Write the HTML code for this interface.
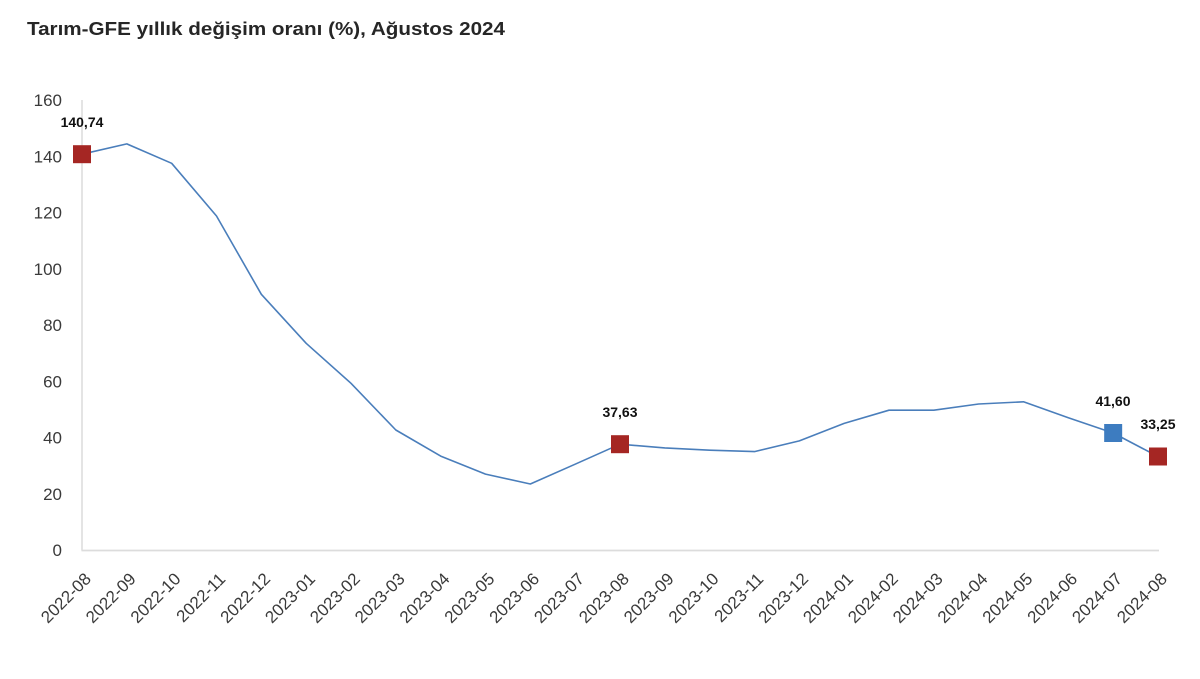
<!DOCTYPE html>
<html>
<head>
<meta charset="utf-8">
<style>
  html,body{margin:0;padding:0;background:#ffffff;}
  svg{display:block;}
  text{font-family:"Liberation Sans", Arial, sans-serif;}
</style>
</head>
<body>
<svg width="1200" height="679" viewBox="0 0 1200 679" xmlns="http://www.w3.org/2000/svg">
  <rect width="1200" height="679" fill="#ffffff"/>
  <!-- Title -->
  <text x="27" y="35" font-size="18" font-weight="bold" fill="#262626" textLength="478" lengthAdjust="spacingAndGlyphs">Tarım-GFE yıllık değişim oranı (%), Ağustos 2024</text>

  <!-- Axes -->
  <line x1="82" y1="100" x2="82" y2="550.5" stroke="#dcdcdc" stroke-width="1.5"/>
  <line x1="81.5" y1="550.5" x2="1159" y2="550.5" stroke="#dcdcdc" stroke-width="1.8"/>

  <!-- Y tick labels -->
  <g font-size="17" fill="#3a3a3a" text-anchor="end">
    <text x="62" y="106">160</text>
    <text x="62" y="162.25">140</text>
    <text x="62" y="218.5">120</text>
    <text x="62" y="274.75">100</text>
    <text x="62" y="331">80</text>
    <text x="62" y="387.25">60</text>
    <text x="62" y="443.5">40</text>
    <text x="62" y="499.75">20</text>
    <text x="62" y="556">0</text>
  </g>

  <!-- X tick labels -->
  <g font-size="17" fill="#3a3a3a" text-anchor="end">
    <text transform="translate(92,580) rotate(-45)">2022-08</text>
    <text transform="translate(136.83,580) rotate(-45)">2022-09</text>
    <text transform="translate(181.67,580) rotate(-45)">2022-10</text>
    <text transform="translate(226.5,580) rotate(-45)">2022-11</text>
    <text transform="translate(271.33,580) rotate(-45)">2022-12</text>
    <text transform="translate(316.17,580) rotate(-45)">2023-01</text>
    <text transform="translate(361,580) rotate(-45)">2023-02</text>
    <text transform="translate(405.83,580) rotate(-45)">2023-03</text>
    <text transform="translate(450.67,580) rotate(-45)">2023-04</text>
    <text transform="translate(495.5,580) rotate(-45)">2023-05</text>
    <text transform="translate(540.33,580) rotate(-45)">2023-06</text>
    <text transform="translate(585.17,580) rotate(-45)">2023-07</text>
    <text transform="translate(630,580) rotate(-45)">2023-08</text>
    <text transform="translate(674.83,580) rotate(-45)">2023-09</text>
    <text transform="translate(719.67,580) rotate(-45)">2023-10</text>
    <text transform="translate(764.5,580) rotate(-45)">2023-11</text>
    <text transform="translate(809.33,580) rotate(-45)">2023-12</text>
    <text transform="translate(854.17,580) rotate(-45)">2024-01</text>
    <text transform="translate(899,580) rotate(-45)">2024-02</text>
    <text transform="translate(943.83,580) rotate(-45)">2024-03</text>
    <text transform="translate(988.67,580) rotate(-45)">2024-04</text>
    <text transform="translate(1033.5,580) rotate(-45)">2024-05</text>
    <text transform="translate(1078.33,580) rotate(-45)">2024-06</text>
    <text transform="translate(1123.17,580) rotate(-45)">2024-07</text>
    <text transform="translate(1168,580) rotate(-45)">2024-08</text>
  </g>

  <!-- Series line -->
  <polyline fill="none" stroke="#4a7ebb" stroke-width="1.6" stroke-linejoin="round"
    points="82,154.2 126.83,143.9 171.67,163.3 216.5,216 261.33,294.3 306.17,343.3 351,383.3 395.83,430 440.67,456.1 485.5,474.1 530.33,484 575.17,464.2 620,444.2 664.83,447.9 709.67,450.2 754.5,451.6 799.33,440.9 844.17,423.4 889,410.2 933.83,410.2 978.67,404 1023.5,401.8 1068.33,417.8 1113.17,433 1158,456.5"/>

  <!-- Markers -->
  <rect x="73" y="145.2" width="18" height="18" fill="#a52623"/>
  <rect x="611" y="435.2" width="18" height="18" fill="#a52623"/>
  <rect x="1104.17" y="424" width="18" height="18" fill="#3d7cc0"/>
  <rect x="1149" y="447.5" width="18" height="18" fill="#a52623"/>

  <!-- Data labels -->
  <g font-size="14" font-weight="bold" fill="#111111" text-anchor="middle">
    <text x="82" y="127">140,74</text>
    <text x="620" y="417">37,63</text>
    <text x="1113" y="406">41,60</text>
    <text x="1158" y="429">33,25</text>
  </g>
</svg>
</body>
</html>
